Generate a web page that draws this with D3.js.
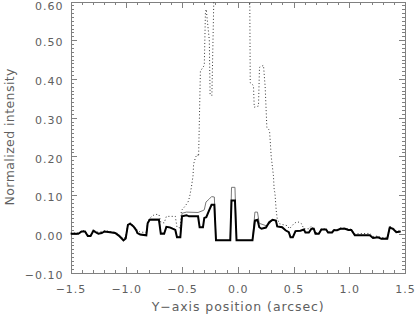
<!DOCTYPE html>
<html>
<head>
<meta charset="utf-8">
<script src="https://cdn.jsdelivr.net/npm/d3@7"></script>
<style>
  body { margin: 0; background: #fff; }
  svg { display: block; }
  .axis text { font-family: "DejaVu Sans", sans-serif; font-size: 11px; fill: #606060; letter-spacing: 1px; }
  .axis path, .axis line { stroke: #808080; shape-rendering: crispEdges; }
  .axis-title { font-family: "DejaVu Sans", sans-serif; font-size: 12.5px; fill: #606060; }
</style>
</head>
<body>
<div id="chart"></div>
<script>
var svgWidth = 415;
var svgHeight = 316;

var margin = { top: 1.5, right: 10, bottom: 43.5, left: 70.5 };
var width = svgWidth - margin.left - margin.right;
var height = svgHeight - margin.top - margin.bottom;

// tick values
var xMajorTicks = [-1.5, -1.0, -0.5, 0.0, 0.5, 1.0, 1.5];
var yMajorTicks = [-0.10, 0.00, 0.10, 0.20, 0.30, 0.40, 0.50, 0.60];

// thick black profile
var thickPos = [-1.50, -1.43, -1.40, -1.37, -1.345, -1.32, -1.295, -1.275, -1.25, -1.22, -1.195, -1.145, -1.10, -1.07, -1.045, -1.025, -1.005, -0.985, -0.965, -0.935, -0.91, -0.90, -0.875, -0.82, -0.808, -0.79, -0.707, -0.69, -0.66, -0.64, -0.605, -0.56, -0.545, -0.515, -0.50, -0.46, -0.437, -0.356, -0.342, -0.312, -0.30, -0.282, -0.255, -0.235, -0.21, -0.195, -0.067, -0.056, -0.025, -0.011, 0.132, 0.154, 0.177, 0.193, 0.213, 0.253, 0.282, 0.312, 0.342, 0.354, 0.398, 0.428, 0.458, 0.473, 0.494, 0.518, 0.562, 0.593, 0.607, 0.638, 0.661, 0.682, 0.697, 0.727, 0.75, 0.792, 0.81, 0.846, 0.861, 0.891, 0.92, 0.963, 0.992, 1.019, 1.05, 1.184, 1.213, 1.258, 1.288, 1.341, 1.363, 1.392, 1.422, 1.461];
var thickVal = [0.000, 0.000, 0.006, 0.006, -0.006, -0.006, 0.008, 0.004, 0.000, 0.002, 0.006, 0.004, 0.002, -0.004, -0.011, -0.017, -0.012, 0.023, 0.026, 0.019, 0.009, 0.002, -0.002, -0.004, 0.027, 0.036, 0.036, 0.000, 0.000, 0.018, 0.016, 0.010, -0.009, -0.009, 0.045, 0.048, 0.045, 0.045, 0.017, 0.017, 0.041, 0.043, 0.062, 0.075, 0.075, -0.017, -0.017, 0.086, 0.086, -0.017, -0.017, 0.034, 0.036, 0.017, 0.013, 0.016, 0.030, 0.036, 0.034, 0.019, 0.017, 0.009, 0.004, -0.009, -0.009, 0.007, 0.008, 0.011, 0.003, 0.003, 0.013, 0.013, 0.000, 0.000, 0.011, 0.011, 0.003, 0.003, 0.009, 0.009, 0.013, 0.013, 0.010, 0.010, -0.004, -0.004, -0.011, -0.009, -0.013, -0.013, 0.016, 0.013, 0.004, 0.006];

// thin grey profile
var thinPos = [-1.50, -1.43, -1.40, -1.37, -1.345, -1.32, -1.295, -1.275, -1.25, -1.22, -1.195, -1.145, -1.10, -1.07, -1.045, -1.025, -1.005, -0.985, -0.965, -0.935, -0.91, -0.90, -0.875, -0.82, -0.808, -0.79, -0.707, -0.69, -0.66, -0.64, -0.605, -0.56, -0.545, -0.515, -0.50, -0.46, -0.356, -0.312, -0.30, -0.285, -0.255, -0.235, -0.21, -0.195, -0.067, -0.056, -0.025, -0.011, 0.132, 0.154, 0.177, 0.193, 0.253, 0.282, 0.312, 0.342, 0.354, 0.398, 0.428, 0.458, 0.473, 0.494, 0.518, 0.562, 0.593, 0.607, 0.638, 0.661, 0.682, 0.697, 0.727, 0.75, 0.792, 0.81, 0.846, 0.861, 0.891, 0.92, 0.963, 0.992, 1.019, 1.05, 1.184, 1.213, 1.258, 1.288, 1.341, 1.363, 1.392, 1.422, 1.461];
var thinVal = [0.000, 0.000, 0.006, 0.006, -0.006, -0.006, 0.008, 0.004, 0.000, 0.002, 0.006, 0.004, 0.002, -0.004, -0.011, -0.017, -0.012, 0.023, 0.026, 0.019, 0.009, 0.002, -0.002, -0.004, 0.029, 0.038, 0.038, 0.002, 0.002, 0.019, 0.017, 0.011, -0.008, -0.008, 0.053, 0.056, 0.055, 0.060, 0.062, 0.082, 0.090, 0.096, 0.095, -0.017, -0.017, 0.120, 0.120, -0.017, -0.017, 0.056, 0.056, 0.027, 0.021, 0.025, 0.036, 0.034, 0.019, 0.017, 0.009, 0.004, -0.009, -0.009, 0.007, 0.008, 0.011, 0.003, 0.003, 0.013, 0.013, 0.000, 0.000, 0.011, 0.011, 0.003, 0.003, 0.009, 0.009, 0.013, 0.013, 0.010, 0.010, -0.004, -0.004, -0.011, -0.009, -0.013, -0.013, 0.016, 0.013, 0.004, 0.006];

// dotted profile (goes off the top of the plot in the middle)
var dotPos = [-1.50, -1.43, -1.40, -1.37, -1.345, -1.32, -1.295, -1.25, -1.195, -1.10, -1.07, -1.045, -1.025, -1.005, -0.985, -0.965, -0.935, -0.91, -0.875, -0.82, -0.808, -0.79, -0.77, -0.745, -0.707, -0.69, -0.66, -0.64, -0.56, -0.545, -0.515, -0.506, -0.476, -0.446, -0.432, -0.416, -0.401, -0.396, -0.378, -0.363, -0.351, -0.335, -0.30, -0.29, -0.283, -0.255, -0.248, -0.232, -0.215, -0.20, -0.10, 0.00, 0.09, 0.106, 0.112, 0.141, 0.148, 0.186, 0.195, 0.231, 0.246, 0.261, 0.285, 0.30, 0.32, 0.327, 0.333, 0.345, 0.354, 0.374, 0.414, 0.443, 0.464, 0.503, 0.524, 0.548, 0.571, 0.593, 0.638, 0.661, 0.682, 0.697, 0.727, 0.75, 0.792, 0.81, 0.846, 0.861, 0.891, 0.92, 0.963, 0.992, 1.019, 1.05, 1.184, 1.213, 1.258, 1.288, 1.341, 1.363, 1.392, 1.422, 1.461];
var dotVal = [0.002, 0.002, 0.008, 0.008, -0.003, -0.002, 0.010, 0.004, 0.008, 0.004, 0.000, -0.008, -0.012, -0.008, 0.025, 0.028, 0.021, 0.012, 0.004, 0.004, 0.030, 0.040, 0.045, 0.050, 0.050, 0.030, 0.028, 0.045, 0.045, 0.017, 0.015, 0.060, 0.070, 0.082, 0.095, 0.120, 0.150, 0.180, 0.198, 0.205, 0.200, 0.420, 0.435, 0.570, 0.580, 0.500, 0.360, 0.357, 0.600, 0.850, 1.000, 1.000, 0.900, 0.700, 0.390, 0.383, 0.327, 0.330, 0.430, 0.435, 0.379, 0.275, 0.267, 0.200, 0.150, 0.112, 0.107, 0.060, 0.039, 0.026, 0.023, 0.021, 0.013, 0.026, 0.030, 0.030, 0.026, 0.013, 0.013, 0.020, 0.013, 0.003, 0.003, 0.013, 0.013, 0.005, 0.005, 0.011, 0.011, 0.015, 0.015, 0.012, 0.012, 0.000, 0.001, -0.007, -0.006, -0.010, -0.009, 0.019, 0.016, 0.007, 0.008];

var svg = d3.select("#chart")
  .append("svg")
  .attr("width", svgWidth)
  .attr("height", svgHeight);

var chartGroup = svg.append("g")
  .attr("transform", `translate(${margin.left}, ${margin.top})`);

var xScale = d3.scaleLinear().domain([-1.5, 1.5]).range([0, width]);
var yScale = d3.scaleLinear().domain([-0.10, 0.60]).range([height, 0]);

svg.append("defs").append("clipPath")
  .attr("id", "plot-clip")
  .append("rect")
  .attr("width", width)
  .attr("height", height);

// minor ticks
var xMinor = d3.range(-15, 16).map(d => d / 10);
var yMinor = d3.range(-10, 61).map(d => d / 100);

chartGroup.append("g").attr("class", "axis")
  .attr("transform", `translate(0, ${height})`)
  .call(d3.axisBottom(xScale).tickValues(xMinor).tickSize(-3).tickSizeOuter(0).tickFormat(""));
chartGroup.append("g").attr("class", "axis")
  .call(d3.axisTop(xScale).tickValues(xMinor).tickSize(-3).tickSizeOuter(0).tickFormat(""));
chartGroup.append("g").attr("class", "axis")
  .call(d3.axisLeft(yScale).tickValues(yMinor).tickSize(-3).tickSizeOuter(0).tickFormat(""));
chartGroup.append("g").attr("class", "axis")
  .attr("transform", `translate(${width}, 0)`)
  .call(d3.axisRight(yScale).tickValues(yMinor).tickSize(-3).tickSizeOuter(0).tickFormat(""));

// major ticks + labels
chartGroup.append("g").attr("class", "axis")
  .attr("transform", `translate(0, ${height})`)
  .call(d3.axisBottom(xScale).tickValues(xMajorTicks).tickSize(-6).tickSizeOuter(0)
    .tickPadding(12.5).tickFormat(d3.format(".1f")));
chartGroup.append("g").attr("class", "axis")
  .call(d3.axisTop(xScale).tickValues(xMajorTicks).tickSize(-6).tickSizeOuter(0).tickFormat(""));
var yAxisG = chartGroup.append("g").attr("class", "axis")
  .call(d3.axisLeft(yScale).tickValues(yMajorTicks).tickSize(-6).tickSizeOuter(0)
    .tickPadding(7).tickFormat(d3.format(".2f")));
// labels sit a little below their ticks; keep the top one inside the picture
yAxisG.selectAll(".tick text")
  .attr("dy", d => d >= 0.6 ? "0.7em" : "0.52em");
chartGroup.append("g").attr("class", "axis")
  .attr("transform", `translate(${width}, 0)`)
  .call(d3.axisRight(yScale).tickValues(yMajorTicks).tickSize(-6).tickSizeOuter(0).tickFormat(""));

var line = d3.line()
  .x(d => xScale(d[0]))
  .y(d => yScale(d[1]));

var plot = chartGroup.append("g").attr("clip-path", "url(#plot-clip)");

plot.append("path")
  .datum(d3.zip(dotPos, dotVal))
  .attr("fill", "none")
  .attr("stroke", "#333")
  .attr("stroke-width", 1)
  .attr("stroke-dasharray", "1,2.3")
  .attr("d", line);

plot.append("path")
  .datum(d3.zip(thinPos, thinVal))
  .attr("fill", "none")
  .attr("stroke", "#777")
  .attr("stroke-width", 1)
  .attr("d", line);

plot.append("path")
  .datum(d3.zip(thickPos, thickVal))
  .attr("fill", "none")
  .attr("stroke", "#000")
  .attr("stroke-width", 2)
  .attr("d", line);

// axis titles
chartGroup.append("text")
  .attr("class", "axis-title")
  .attr("text-anchor", "middle")
  .attr("x", width / 2)
  .attr("y", height + 38.5)
  .attr("textLength", 172)
  .attr("lengthAdjust", "spacing")
  .text("Y\u2212axis position (arcsec)");

chartGroup.append("text")
  .attr("class", "axis-title")
  .attr("text-anchor", "middle")
  .attr("transform", "rotate(-90)")
  .attr("x", -height / 2)
  .attr("y", -57)
  .attr("textLength", 137)
  .attr("lengthAdjust", "spacing")
  .text("Normalized intensity");
</script>
</body>
</html>
